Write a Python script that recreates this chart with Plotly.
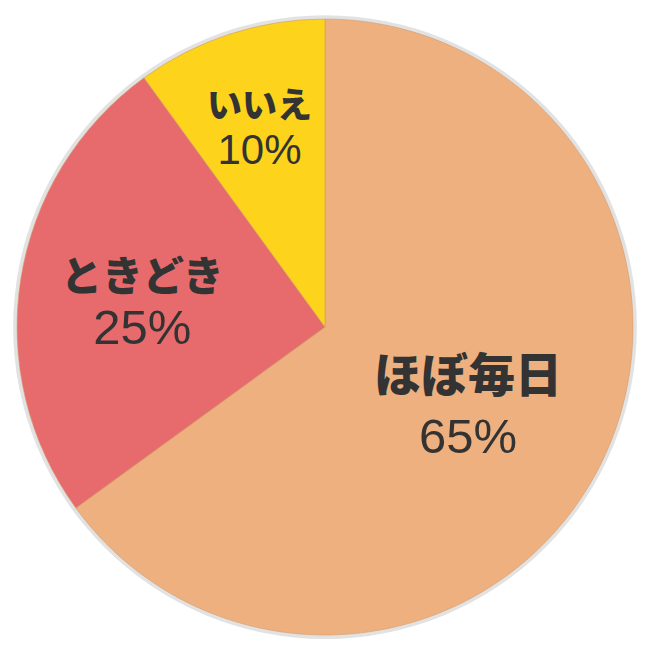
import math
import plotly.graph_objects as go

labels = ["ほぼ毎日", "ときどき", "いいえ"]
values = [65, 25, 10]
colors = ["#EEB07F", "#E76B6C", "#FDD31C"]

# text styling per slice
label_sizes = [47, 41, 35]
pct_sizes = [49, 49, 42]
label_radius = [0.52, 0.60, 0.69]   # where the text block sits, as fraction of the radius

# pie centre/radius in paper fractions (page is offset by the body margin)
cx, cy, r = 0.4877, 0.5092, 0.4738
dom = dict(x=[cx - r, cx + r], y=[cy - r, cy + r])

fig = go.Figure()

# soft grey rim behind the pie (mimics the drop shadow)
fig.add_trace(go.Pie(
    values=[1],
    marker=dict(colors=["#E2E2E2"], line=dict(width=0)),
    domain=dict(x=[cx - r - 0.006, cx + r + 0.006], y=[cy - r - 0.006, cy + r + 0.006]),
    textinfo="none", hoverinfo="skip", showlegend=False, sort=False
))

fig.add_trace(go.Pie(
    labels=labels,
    values=values,
    sort=False,
    direction="clockwise",
    rotation=0,
    marker=dict(colors=colors, line=dict(color="#D49A6A", width=0.6)),
    domain=dom,
    textinfo="none",
    showlegend=False
))

# labels: heavy name over the percentage, at the middle angle of each slice
total = sum(values)
start = 0
for lab, v, ls, ps, fr in zip(labels, values, label_sizes, pct_sizes, label_radius):
    ang = math.radians((start + v / 2) / total * 360)
    start += v
    fig.add_annotation(
        x=cx + fr * r * math.sin(ang),
        y=cy + fr * r * math.cos(ang),
        xref="paper", yref="paper",
        xanchor="center", yanchor="middle",
        showarrow=False,
        text="<span style='font-weight:900'>" + lab + "</span><br>"
             "<span style='font-family:Liberation Sans;font-weight:400;font-size:"
             + str(ps) + "px'>" + str(v) + "%</span>",
        font=dict(family="Noto Sans CJK JP", color="#333333", size=ls)
    )

fig.update_layout(
    width=650, height=650,
    margin=dict(l=0, r=0, t=0, b=0),
    paper_bgcolor="white"
)

fig.write_html("out.html")
